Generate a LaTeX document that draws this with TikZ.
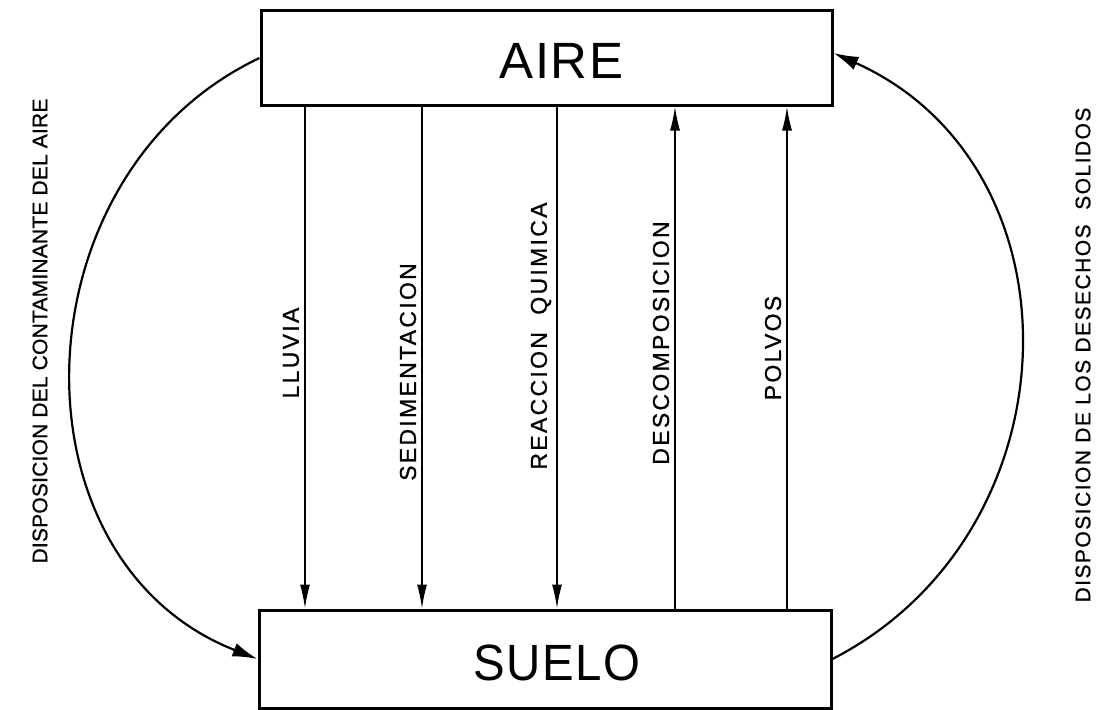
\documentclass[tikz,border=0pt]{standalone}
\usepackage{fontspec}
\setmainfont{Liberation Sans}
\usetikzlibrary{arrows.meta}
\begin{document}
\begin{tikzpicture}[x=1pt,y=-1pt,
  box/.style={draw=black,line width=3pt,inner sep=0pt,font=\fontsize{51}{51}\selectfont\addfontfeature{LetterSpace=3}},
  flow/.style={line width=1.5pt,-{Latex[length=24pt,width=10pt]}},
  arc/.style={line width=2.2pt,-{Latex[length=25pt,width=14pt]}},
  lbl/.style={rotate=90,inner sep=0pt,font=\fontsize{23}{23}\selectfont\addfontfeature{LetterSpace=10,FakeBold=0.9}},
  sidel/.style={rotate=90,inner sep=0pt,font=\fontsize{21}{21}\selectfont\addfontfeature{LetterSpace=1,FakeBold=0.9}},
  sider/.style={rotate=90,inner sep=0pt,font=\fontsize{21}{21}\selectfont\addfontfeature{LetterSpace=7,FakeBold=0.9}}]
\useasboundingbox (0,0) rectangle (1107,709);
\node[box,minimum width=571pt,minimum height=94pt] (aire) at (546.5,58) {\hspace*{30pt}\raisebox{-3pt}[\height][0pt]{AIRE}};
\node[box,minimum width=572pt,minimum height=98pt] (suelo) at (545,659) {\hspace*{24pt}\raisebox{-4pt}[\height][0pt]{\scalebox{0.93}[1]{SUELO}}};
\coordinate (c1) at (305,0);
\coordinate (c2) at (422,0);
\coordinate (c3) at (557,0);
\coordinate (c4) at (675,0);
\coordinate (c5) at (787,0);
\draw[flow] (aire.south -| c1) -- (suelo.north -| c1);
\draw[flow] (aire.south -| c2) -- (suelo.north -| c2);
\draw[flow] (aire.south -| c3) -- (suelo.north -| c3);
\draw[flow] (suelo.north -| c4) -- (aire.south -| c4);
\draw[flow] (suelo.north -| c5) -- (aire.south -| c5);
\node[lbl] (t1) at (291,353) {LLUVIA};
\node[lbl] (t2) at (408,372) {SEDIMENTACION};
\node[lbl] (t3) at (541,336) {REACCION\ \ QUIMICA};
\node[lbl] (t4) at (661,343) {DESCOMPOSICION};
\node[lbl] (t5) at (773,348) {POLVOS};
\draw[arc] (aire.west) .. controls (15,174) and (5,560) .. (suelo.west);
\draw[arc] (suelo.east) .. controls (1079,532) and (1086,166) .. ([yshift=5pt]aire.east);
\node[sidel] (l) at (40,331) {DISPOSICION DEL CONTAMINANTE DEL AIRE};
\node[sider] (r) at (1083,355) {DISPOSICION DE LOS DESECHOS\ \ SOLIDOS};
\end{tikzpicture}
\end{document}
